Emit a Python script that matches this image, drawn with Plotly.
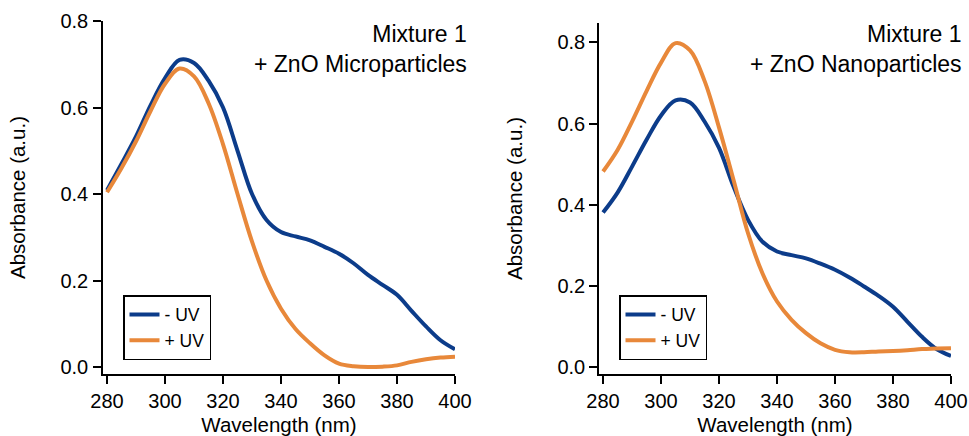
import plotly.graph_objects as go

# wavelength grid (nm)
wavelength = [280, 285, 290, 295, 300, 305, 310, 315, 320, 325, 330, 335, 340,
              345, 350, 355, 360, 365, 370, 375, 380, 385, 390, 395, 400]

# Mixture 1 + ZnO microparticles
micro_no_uv = [0.409, 0.470, 0.533, 0.605, 0.668, 0.710, 0.703, 0.662, 0.600,
               0.500, 0.400, 0.340, 0.312, 0.302, 0.293, 0.278, 0.262, 0.240,
               0.213, 0.190, 0.167, 0.130, 0.094, 0.062, 0.041]
micro_uv = [0.404, 0.460, 0.522, 0.592, 0.655, 0.690, 0.672, 0.610, 0.515,
            0.400, 0.290, 0.200, 0.135, 0.088, 0.055, 0.027, 0.008, 0.002,
            0.000, 0.001, 0.004, 0.012, 0.018, 0.022, 0.024]

# Mixture 1 + ZnO nanoparticles
nano_no_uv = [0.381, 0.430, 0.494, 0.560, 0.620, 0.657, 0.652, 0.605, 0.540,
              0.445, 0.363, 0.309, 0.285, 0.276, 0.268, 0.255, 0.240, 0.221,
              0.199, 0.176, 0.149, 0.112, 0.075, 0.045, 0.028]
nano_uv = [0.482, 0.535, 0.605, 0.680, 0.750, 0.798, 0.780, 0.705, 0.590,
           0.461, 0.330, 0.231, 0.162, 0.117, 0.084, 0.059, 0.043, 0.037,
           0.037, 0.039, 0.040, 0.042, 0.045, 0.046, 0.047]

BLUE = "#0c3c8a"
ORANGE = "#e8883a"
FONT = "Liberation Sans, Arial, sans-serif"
W, H = 969, 436


def px(x):
    return x / W


def py(y):
    return (H - y) / H


fig = go.Figure()

panels = [
    ("x", "y", "legend", micro_no_uv, micro_uv),
    ("x2", "y2", "legend2", nano_no_uv, nano_uv),
]
for xa, ya, leg, no_uv, uv in panels:
    fig.add_trace(go.Scatter(
        x=wavelength, y=no_uv, name="- UV", xaxis=xa, yaxis=ya, legend=leg,
        mode="lines", line=dict(color=BLUE, width=4, shape="spline"),
    ))
    fig.add_trace(go.Scatter(
        x=wavelength, y=uv, name="+ UV", xaxis=xa, yaxis=ya, legend=leg,
        mode="lines", line=dict(color=ORANGE, width=4, shape="spline"),
    ))

axis_style = dict(
    showline=True, linecolor="black", linewidth=1.5,
    ticks="outside", ticklen=8, tickwidth=1.5, tickcolor="black",
    showgrid=False, zeroline=False, mirror=False, automargin=False,
    tickfont=dict(size=20, color="black"),
)
x_title = dict(text="Wavelength (nm)", standoff=7, font=dict(size=20.5))
y_title = dict(text="Absorbance (a.u.)", standoff=29, font=dict(size=20.5))
legend_style = dict(
    xanchor="left", yanchor="top", bordercolor="black", borderwidth=1.5,
    bgcolor="white", font=dict(size=17.5),
)

fig.update_layout(
    width=W, height=H,
    margin=dict(l=0, r=0, t=0, b=0),
    paper_bgcolor="white", plot_bgcolor="white",
    font=dict(family=FONT, color="black", size=20),
    xaxis=dict(axis_style, domain=[px(103), px(455)], range=[278.6, 400],
               dtick=20, anchor="y", title=x_title, ticklabelstandoff=0),
    yaxis=dict(axis_style, domain=[py(374), py(21)],
               range=[-0.016, 0.8], dtick=0.2, tickformat=".1f", anchor="x",
               title=y_title, ticklabelstandoff=1),
    xaxis2=dict(axis_style, domain=[px(599), px(951)], range=[278.6, 400],
                dtick=20, anchor="y2", title=x_title, ticklabelstandoff=0),
    yaxis2=dict(axis_style, domain=[py(374), py(23)],
                range=[-0.0165, 0.8475], dtick=0.2, tickformat=".1f", anchor="x2",
                title=y_title, ticklabelstandoff=0),
    legend=dict(legend_style, x=px(123), y=py(295)),
    legend2=dict(legend_style, x=px(619), y=py(295)),
    annotations=[
        dict(text="Mixture 1<br>+ ZnO Microparticles", x=px(469), y=py(19),
             xref="paper", yref="paper", xanchor="right", yanchor="top",
             align="right", showarrow=False, font=dict(size=23)),
        dict(text="Mixture 1<br>+ ZnO Nanoparticles", x=px(964), y=py(19),
             xref="paper", yref="paper", xanchor="right", yanchor="top",
             align="right", showarrow=False, font=dict(size=23)),
    ],
)

# drop the default page margin so the figure fills the window exactly
fig.write_html(
    "out.html",
    config={"displayModeBar": False},
    post_script="document.body.style.margin='0';document.body.style.overflow='hidden';",
)
